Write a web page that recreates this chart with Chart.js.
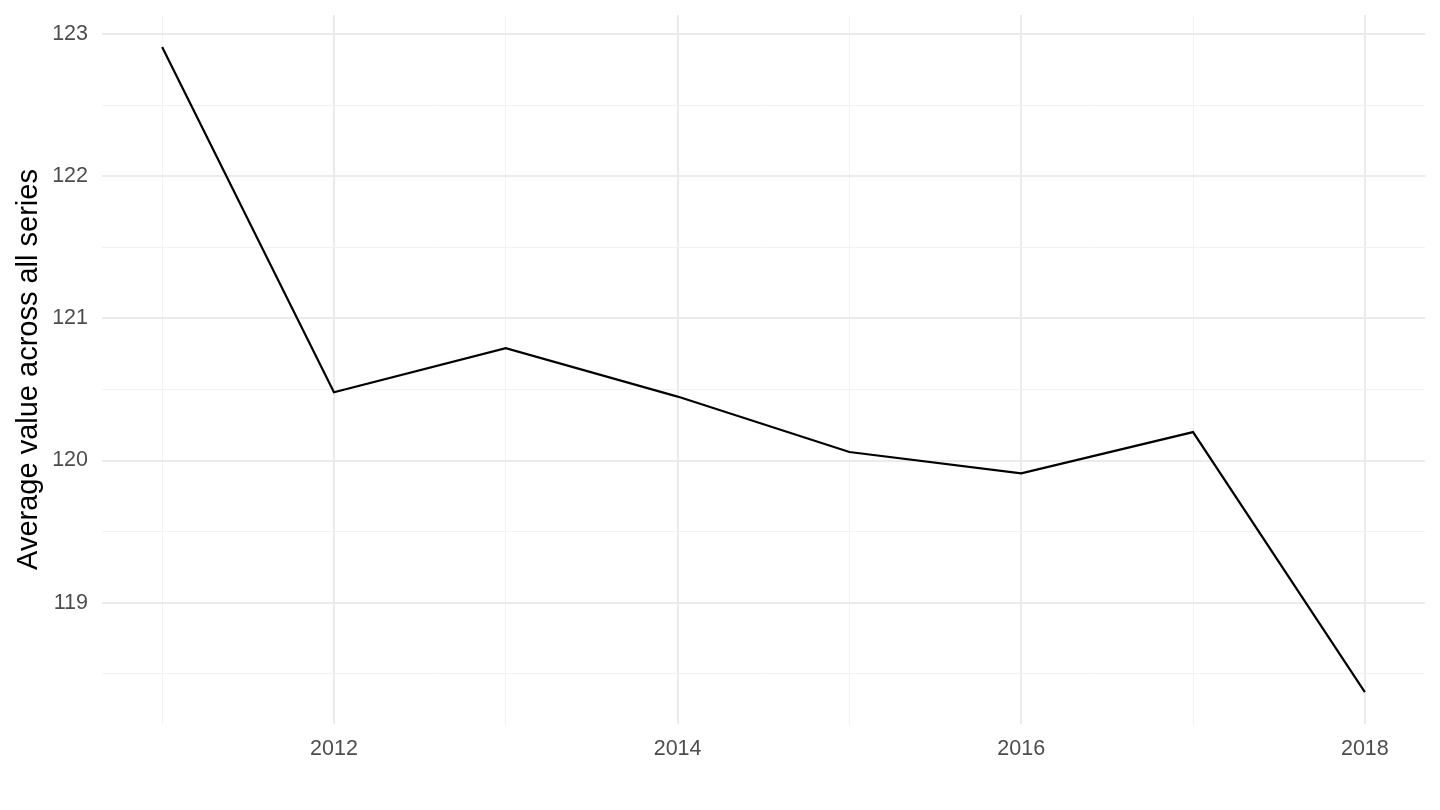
<!DOCTYPE html>
<html>
<head>
<meta charset="utf-8">
<script src="https://cdn.jsdelivr.net/npm/chart.js@4"></script>
<style>
  html, body { margin: 0; padding: 0; background: #fff; }
  #wrap { width: 1440px; height: 810px; }
</style>
</head>
<body>
<div id="wrap"><canvas id="myChart"></canvas></div>
<script>
// values
let years = [2011, 2012, 2013, 2014, 2015, 2016, 2017, 2018];
let avgValues = [122.91, 120.48, 120.79, 120.45, 120.06, 119.91, 120.20, 118.37];

let xTicks = [2011, 2012, 2013, 2014, 2015, 2016, 2017, 2018];
let xLabelled = [2012, 2014, 2016, 2018];
let yTicks = [118.5, 119, 119.5, 120, 120.5, 121, 121.5, 122, 122.5, 123];
let yLabelled = [119, 120, 121, 122, 123];

let points = years.map((yr, i) => ({ x: yr, y: avgValues[i] }));

let ctx = document.getElementById("myChart").getContext("2d");

let tickFont = { family: "Liberation Sans, Arial, sans-serif", size: 21.5 };

let myChart = new Chart(ctx, {
  type: "line",
  data: {
    datasets: [
      {
        data: points,
        borderColor: "#000000",
        borderWidth: 2.2,
        pointRadius: 0,
        tension: 0,
        fill: false,
      },
    ],
  },
  options: {
    responsive: true,
    maintainAspectRatio: false,
    animation: false,
    layout: { padding: { top: 15, right: 15, left: 0, bottom: 0 } },
    plugins: {
      legend: { display: false },
      tooltip: { enabled: false },
    },
    scales: {
      x: {
        type: "linear",
        min: 2010.65,
        max: 2018.35,
        afterBuildTicks: (scale) => {
          scale.ticks = xTicks.map((v) => ({ value: v }));
        },
        afterFit: (scale) => {
          scale.height = 86;
          scale.paddingLeft = 0;
          scale.paddingRight = 0;
        },
        border: { display: false },
        grid: {
          drawTicks: false,
          color: (c) => (xLabelled.includes(c.tick.value) ? "#ebebeb" : "#f2f2f2"),
          lineWidth: (c) => (xLabelled.includes(c.tick.value) ? 2 : 1),
        },
        ticks: {
          color: "#4d4d4d",
          font: tickFont,
          padding: 12,
          maxRotation: 0,
          autoSkip: false,
          callback: (v) => (xLabelled.includes(v) ? String(v) : ""),
        },
      },
      y: {
        min: 118.146,
        max: 123.135,
        afterBuildTicks: (scale) => {
          scale.ticks = yTicks.map((v) => ({ value: v }));
        },
        afterFit: (scale) => {
          scale.width = 102;
          scale.paddingTop = 0;
          scale.paddingBottom = 0;
        },
        border: { display: false },
        grid: {
          drawTicks: false,
          color: (c) => (yLabelled.includes(c.tick.value) ? "#ebebeb" : "#f2f2f2"),
          lineWidth: (c) => (yLabelled.includes(c.tick.value) ? 2 : 1),
        },
        ticks: {
          color: "#4d4d4d",
          font: tickFont,
          padding: 14,
          autoSkip: false,
          callback: (v) => (yLabelled.includes(v) ? String(v) : ""),
        },
        title: {
          display: true,
          text: "Average value across all series",
          color: "#000000",
          font: { family: "Liberation Sans, Arial, sans-serif", size: 29 },
          padding: { top: 12, bottom: 0 },
        },
      },
    },
  },
});
</script>
</body>
</html>
